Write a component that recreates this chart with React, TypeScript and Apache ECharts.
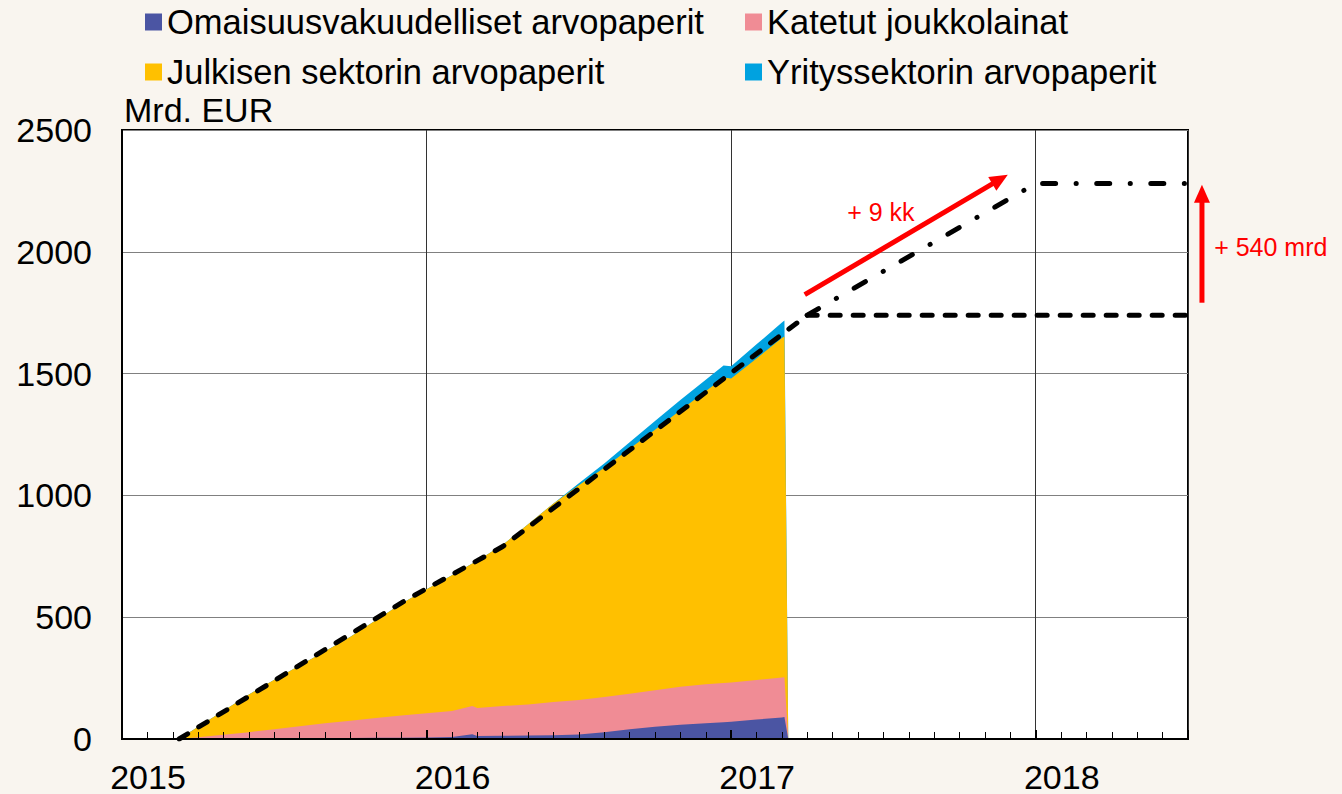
import React, { useEffect, useRef } from "react";
import * as echarts from "echarts";

// Months since 1 Jan 2015
const MONTHS = [2.25, 3, 4, 5, 6, 7, 8, 9, 10, 11, 12, 13, 13.8, 14, 15, 16, 17, 18, 19, 20, 21, 22, 23, 23.7, 24, 25, 26, 26.1, 26.25];
const OMAISUUS = [0, 1, 2, 2, 3, 3, 4, 4, 5, 5, 6, 8, 20, 12, 13, 14, 15, 18, 28, 40, 50, 58, 65, 69, 71, 80, 88, 90, 0];
const KATETUT = [0, 6, 15, 26, 37, 49, 61, 71, 81, 91, 100, 107, 115, 115, 122, 128, 137, 142, 144, 146, 150, 156, 160, 161, 161, 162, 164, 164, 0];
const JULKISEN = [0, 43, 99, 155, 203, 250, 295, 345, 401, 459, 509, 557, 585, 605, 662, 740, 815, 882, 941, 1005, 1070, 1136, 1203, 1254, 1248, 1320, 1394, 1398, 0];
const YRITYS = [0, 0, 0, 0, 0, 0, 0, 0, 0, 0, 0, 0, 0, 0, 0, 0, 0, 8, 18, 27, 35, 42, 47, 49, 50, 58, 64, 66, 0];

const PLAN_X = [2.25, 11.25, 15, 27, 42];
const PLAN_Y = [0, 574, 790, 1740, 1740];
const EXT_X = [27, 36, 42];
const EXT_Y = [1740, 2280, 2280];

const NAMES = [
  "Omaisuusvakuudelliset arvopaperit",
  "Katetut joukkolainat",
  "Julkisen sektorin arvopaperit",
  "Yrityssektorin arvopaperit",
];
const COLORS = ["#4B55A3", "#F08C95", "#FFC000", "#00A2E0"];
const SERIES_VALUES = [OMAISUUS, KATETUT, JULKISEN, YRITYS];

const YEAR0 = 2015;
const FONT = "'Liberation Sans', Arial, sans-serif";
const FS = 34;

// annotation anchors in data coordinates
const ARROW_DIAG = [[26.9, 1824], [34.9, 2316]];
const ARROW_VERT = [[42.55, 1791], [42.55, 2275]];
const LABEL_9KK = { text: "+ 9 kk", at: [29.9, 2164] };
const LABEL_540 = { text: "+ 540 mrd", at: [43.03, 2020] };

export default function App() {
  const ref = useRef<HTMLDivElement>(null);
  useEffect(() => {
    if (!ref.current) return;
    const chart = echarts.init(ref.current, null, { renderer: "svg" });

    // stack manually: cumulative sums, drawn top-most total first
    const cumulative: number[][] = [];
    SERIES_VALUES.forEach((vals, i) => {
      cumulative.push(vals.map((v, j) => v + (i > 0 ? cumulative[i - 1][j] : 0)));
    });
    const areaSeries = [3, 2, 1, 0].map((i) => ({
      name: NAMES[i],
      type: "line",
      symbol: "none",
      xAxisIndex: 0,
      data: MONTHS.map((m, j) => [m, cumulative[i][j]]),
      lineStyle: { width: 0 },
      itemStyle: { color: COLORS[i] },
      areaStyle: { color: COLORS[i], opacity: 1 },
      z: 2,
    }));

    const legendBase = {
      top: 2,
      orient: "vertical",
      padding: 0,
      itemGap: 10,
      itemWidth: 17,
      itemHeight: 17,
      icon: "rect",
      textStyle: { fontSize: 34.5, color: "#000", lineHeight: 40, fontFamily: FONT },
      selectedMode: false,
    };

    const option: any = {
      animation: false,
      backgroundColor: "#f9f5ef",
      textStyle: { fontFamily: FONT },
      grid: {
        left: 122,
        top: 130,
        right: 154,
        bottom: 54,
        show: true,
        backgroundColor: "#ffffff",
        borderColor: "#000",
        borderWidth: 2,
      },
      legend: [
        { ...legendBase, left: 145, data: [NAMES[0], NAMES[2]] },
        { ...legendBase, left: 745, data: [NAMES[1], NAMES[3]] },
      ],
      xAxis: [
        {
          type: "value",
          min: 0,
          max: 42,
          interval: 12,
          position: "bottom",
          z: 10,
          axisLine: { show: true, lineStyle: { color: "#000", width: 2 } },
          axisTick: { show: true, inside: true, length: 9, lineStyle: { color: "#000", width: 2 } },
          minorTick: { show: true, splitNumber: 12, length: 7, lineStyle: { color: "#000", width: 1 } },
          splitLine: { show: false },
          axisLabel: {
            fontSize: FS,
            lineHeight: 28,
            color: "#000",
            margin: 24,
            padding: [0, 0, 0, 52],
            showMaxLabel: false,
            fontFamily: FONT,
            formatter: (v: number) => (v % 12 === 0 ? String(YEAR0 + v / 12) : ""),
          },
        },
        {
          type: "value",
          min: 0,
          max: 42,
          interval: 12,
          position: "top",
          z: 0,
          axisLine: { show: false },
          axisTick: { show: false },
          axisLabel: { show: false },
          splitLine: { show: true, lineStyle: { color: "#333", width: 1 } },
        },
      ],
      yAxis: {
        type: "value",
        min: 0,
        max: 2500,
        interval: 500,
        name: "Mrd. EUR",
        nameLocation: "end",
        nameGap: 3,
        nameTextStyle: { fontSize: FS, color: "#000", align: "left", padding: [0, 0, 0, 2], fontFamily: FONT },
        axisLine: { show: true, lineStyle: { color: "#000", width: 2 } },
        axisTick: { show: false },
        splitLine: { show: true, lineStyle: { color: "#808080", width: 1 } },
        axisLabel: { fontSize: FS, color: "#000", margin: 30, fontFamily: FONT, formatter: (v: number) => String(v) },
      },
      series: [
        ...areaSeries,
        {
          name: "plan",
          type: "line",
          symbol: "none",
          data: PLAN_X.map((x, i) => [x, PLAN_Y[i]]),
          lineStyle: { color: "#000", width: 5, type: [10, 13], cap: "round" },
          z: 5,
        },
        {
          name: "extension",
          type: "line",
          symbol: "none",
          data: EXT_X.map((x, i) => [x, EXT_Y[i]]),
          lineStyle: { color: "#000", width: 5, type: [13, 20.5, 0.1, 20.5], cap: "round" },
          z: 5,
        },
      ],
    };
    chart.setOption(option);

    const px = (p: number[]) => chart.convertToPixel({ gridIndex: 0 }, p) as number[];
    const arrow = (pts: number[][]) => {
      const a = px(pts[0]);
      const b = px(pts[1]);
      const dx = b[0] - a[0];
      const dy = b[1] - a[1];
      const len = Math.sqrt(dx * dx + dy * dy);
      const ux = dx / len;
      const uy = dy / len;
      const headLen = 18;
      const headHalf = 8;
      const bx = b[0] - ux * headLen;
      const by = b[1] - uy * headLen;
      return [
        {
          type: "line",
          shape: { x1: a[0], y1: a[1], x2: bx + ux * 2, y2: by + uy * 2 },
          style: { stroke: "#ff0000", lineWidth: 5 },
          z: 10,
        },
        {
          type: "polygon",
          shape: {
            points: [
              [b[0], b[1]],
              [bx - uy * headHalf, by + ux * headHalf],
              [bx + uy * headHalf, by - ux * headHalf],
            ],
          },
          style: { fill: "#ff0000" },
          z: 10,
        },
      ];
    };
    const t1 = px(LABEL_9KK.at);
    const t2 = px(LABEL_540.at);
    chart.setOption({
      graphic: [
        ...arrow(ARROW_DIAG),
        ...arrow(ARROW_VERT),
        {
          type: "text",
          x: t1[0],
          y: t1[1],
          z: 10,
          style: { text: LABEL_9KK.text, fill: "#ff0000", fontSize: 25, fontFamily: FONT, align: "center", verticalAlign: "middle" },
        },
        {
          type: "text",
          x: t2[0],
          y: t2[1],
          z: 10,
          style: { text: LABEL_540.text, fill: "#ff0000", fontSize: 25, fontFamily: FONT, align: "left", verticalAlign: "middle" },
        },
      ],
    });
    return () => chart.dispose();
  }, []);
  return <div ref={ref} style={{ position: "absolute", left: 0, top: 0, width: 1342, height: 794 }} />;
}
